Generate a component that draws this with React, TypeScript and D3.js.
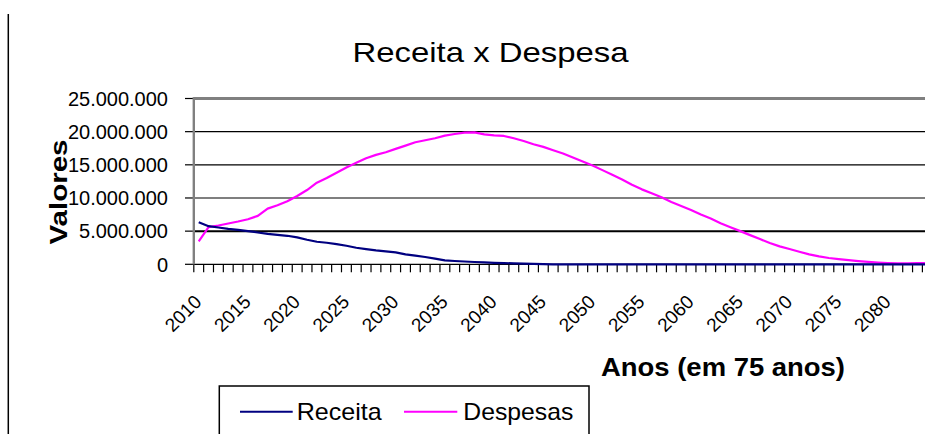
import React from "react";
import * as d3 from "d3";

const years: number[] = d3.range(2010, 2086);
const receita: number[] = [
  6.33, 5.75, 5.55, 5.35, 5.2, 5.0, 4.8, 4.6, 4.45, 4.3,
  4.05, 3.7, 3.4, 3.25, 3.05, 2.8, 2.5, 2.3, 2.1, 1.95,
  1.8, 1.5, 1.3, 1.1, 0.85, 0.6, 0.5, 0.42, 0.35, 0.28,
  0.22, 0.18, 0.14, 0.1, 0.07, 0.03, 0, 0, 0, 0,
  0, 0, 0, 0, 0, 0, 0, 0, 0, 0,
  0, 0, 0, 0, 0, 0, 0, 0, 0, 0,
  0, 0, 0, 0, 0, 0, 0, 0, 0, 0,
  0, 0, 0, 0, 0, 0,
];
const despesas: number[] = [
  3.45, 5.6, 5.85, 6.15, 6.45, 6.8, 7.3, 8.4, 8.9, 9.5,
  10.3, 11.2, 12.3, 13.0, 13.8, 14.6, 15.3, 16.0, 16.5, 16.9,
  17.4, 17.9, 18.4, 18.7, 19.0, 19.4, 19.65, 19.85, 19.9, 19.6,
  19.45, 19.35, 19.0, 18.6, 18.1, 17.7, 17.2, 16.7, 16.1, 15.5,
  14.9, 14.2, 13.5, 12.8, 12.0, 11.3, 10.7, 10.1, 9.4, 8.8,
  8.2, 7.5, 6.9, 6.2, 5.6, 5.0, 4.4, 3.8, 3.2, 2.7,
  2.3, 1.9, 1.5, 1.2, 0.95, 0.78, 0.62, 0.48, 0.36, 0.26,
  0.19, 0.15, 0.15, 0.18, 0.2, 0.2,
];
const yTicks: number[] = [0, 5, 10, 15, 20, 25];
const yTickLabels: string[] = ["0", "5.000.000", "10.000.000", "15.000.000", "20.000.000", "25.000.000"];
const labelYears: number[] = d3.range(2010, 2085, 5);

const FONT = "'Liberation Sans', Arial, sans-serif";

export default function App() {
  const x0 = 193.8;
  const step = 9.846;
  const x = d3
    .scaleBand<number>()
    .domain(years)
    .range([x0, x0 + step * years.length])
    .paddingInner(0)
    .paddingOuter(0);
  const y = d3.scaleLinear().domain([0, 25]).range([264.3, 98.5]);
  const cx = (yr: number) => (x(yr) as number) + x.bandwidth() / 2;

  const line = d3
    .line<number>()
    .x((_, i) => cx(years[i]))
    .y((v) => y(v));

  const right = x0 + step * years.length;

  return (
    <svg
      width={925}
      height={434}
      style={{ position: "absolute", left: 0, top: 0, background: "#fff" }}
      fontFamily={FONT}
    >
      <rect x={0} y={0} width={925} height={434} fill="#fff" />
      {/* frame line */}
      <line x1={8.3} x2={8.3} y1={14} y2={434} stroke="#000" strokeWidth={1.5} />

      {/* title */}
      <text x={490.5} y={61.7} fontSize={28} textAnchor="middle" textLength={276} lengthAdjust="spacingAndGlyphs">
        Receita x Despesa
      </text>

      {/* gridlines */}
      {yTicks.map((t) =>
        t === 0 || t === 25 ? null : (
          <line
            key={"g" + t}
            x1={x0}
            x2={right}
            y1={y(t)}
            y2={y(t)}
            stroke="#000"
            strokeWidth={t === 5 ? 2 : 1.2}
          />
        )
      )}
      {/* top border */}
      <line x1={x0} x2={right} y1={y(25)} y2={y(25)} stroke="#808080" strokeWidth={2.8} />

      {/* y ticks */}
      {yTicks.map((t) => (
        <line key={"yt" + t} x1={185} x2={x0} y1={y(t)} y2={y(t)} stroke="#000" strokeWidth={1.2} />
      ))}
      {/* y labels */}
      {yTicks.map((t, i) => (
        <text key={"yl" + t} x={168} y={y(t) + 7.2} fontSize={20} textAnchor="end">
          {yTickLabels[i]}
        </text>
      ))}

      {/* x axis */}
      <line x1={x0} x2={right} y1={y(0)} y2={y(0)} stroke="#000" strokeWidth={1.2} />
      {years.map((yr) => (
        <line
          key={"xt" + yr}
          x1={x(yr) as number}
          x2={x(yr) as number}
          y1={y(0)}
          y2={272.3}
          stroke="#000"
          strokeWidth={1.2}
        />
      ))}
      <line x1={right} x2={right} y1={y(0)} y2={272.3} stroke="#000" strokeWidth={1.2} />

      {/* left axis (gray) */}
      <line x1={x0} x2={x0} y1={y(25) - 1.4} y2={y(0)} stroke="#808080" strokeWidth={2.4} />

      {/* x labels */}
      {labelYears.map((yr) => (
        <text
          key={"xl" + yr}
          fontSize={19}
          textAnchor="end"
          transform={`translate(${cx(yr) + 4},${303}) rotate(-45)`}
        >
          {yr}
        </text>
      ))}

      {/* series */}
      <path d={line(despesas) || ""} fill="none" stroke="#FF00FF" strokeWidth={2.2} strokeLinejoin="round" />
      <path d={line(receita) || ""} fill="none" stroke="#000080" strokeWidth={2.2} strokeLinejoin="round" />

      {/* axis titles */}
      <text
        fontSize={23}
        fontWeight="bold"
        textAnchor="middle"
        textLength={105}
        lengthAdjust="spacingAndGlyphs"
        transform={`translate(67,192) rotate(-90)`}
      >
        Valores
      </text>
      <text x={601} y={376} fontSize={26} fontWeight="bold" textLength={244} lengthAdjust="spacingAndGlyphs">
        Anos (em 75 anos)
      </text>

      {/* legend */}
      <rect x={219.3} y={386} width={369.7} height={70} fill="#fff" stroke="#000" strokeWidth={1.5} />
      <line x1={240} x2={292.7} y1={411.7} y2={411.7} stroke="#000080" strokeWidth={2} />
      <text x={296.7} y={420} fontSize={24} textLength={85} lengthAdjust="spacingAndGlyphs">
        Receita
      </text>
      <line x1={404} x2={457.3} y1={411.7} y2={411.7} stroke="#FF00FF" strokeWidth={2} />
      <text x={463.3} y={420} fontSize={24} textLength={110} lengthAdjust="spacingAndGlyphs">
        Despesas
      </text>
    </svg>
  );
}
